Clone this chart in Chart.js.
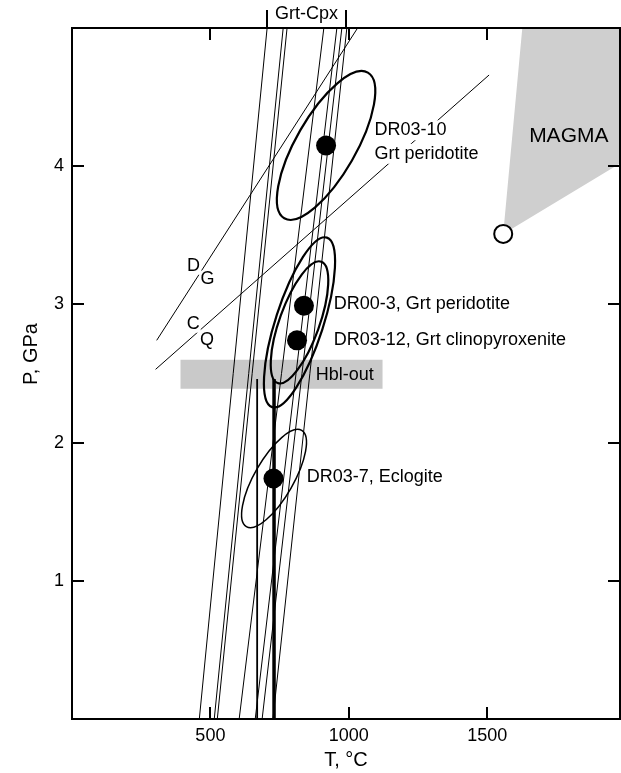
<!DOCTYPE html>
<html>
<head>
<meta charset="utf-8">
<script src="https://cdn.jsdelivr.net/npm/chart.js@4/dist/chart.umd.min.js"></script>
<style>
  html, body { margin: 0; padding: 0; background: #fff; }
  #wrap { width: 621px; height: 773px; }
</style>
</head>
<body>
<div id="wrap"><canvas id="pt" width="621" height="773"></canvas></div>
<script>
// axis ticks
const xTicks = [500, 1000, 1500];
const yTicks = [1, 2, 3, 4];

// Grt-Cpx thermometer lines: T at P = 0 and T at P = 5
const thermoBottomT = [460, 514, 525, 604, 662, 687, 726];
const thermoTopT = [705, 763, 777, 910, 957, 975, 993];
const grtCpxRange = [705, 990];

// vertical lines (T, top P)
const hblLineT = [669, 730];
const hblLineTopP = [2.46, 2.46];

// reaction lines D/G and C/Q
const dgT = [306, 1032];
const dgP = [2.74, 5.0];
const cqT = [302, 1507];
const cqP = [2.53, 4.66];

// Hbl-out band
const hblBandT = [392, 1122];
const hblBandP = [2.39, 2.6];

// magma field
const magmaT = [1558, 1627, 1980, 1980];
const magmaP = [3.51, 5.0, 5.0, 4.02];

// samples
const sampleNames = ['DR03-10', 'DR00-3', 'DR03-12', 'DR03-7'];
const sampleT = [918, 838, 813, 728];
const sampleP = [4.15, 2.99, 2.74, 1.74];
const magmaPointT = [1558];
const magmaPointP = [3.51];

// error ellipses: centre, semi-axis vectors (dT, dP)
const ellCentreT = [918, 822, 822, 730];
const ellCentreP = [4.15, 2.87, 2.87, 1.74];
const ellMajorT = [151, 99, 79, 100];
const ellMajorP = [0.527, 0.613, 0.439, 0.348];
const ellMinorT = [93.5, 82, 67.6, 61];
const ellMinorP = [-0.109, -0.054, -0.05, -0.071];
const ellWidth = [2.2, 2.2, 2.2, 1.5];

// text labels
const labelText = ['DR03-10', 'Grt peridotite', 'DR00-3, Grt peridotite', 'DR03-12, Grt clinopyroxenite',
  'DR03-7, Eclogite', 'Hbl-out', 'D', 'G', 'C', 'Q'];
const labelT = [1093, 1093, 946, 946, 848, 881, 439, 490, 438, 488];
const labelP = [4.26, 4.09, 3.0, 2.74, 1.75, 2.49, 3.28, 3.18, 2.86, 2.74];
const labelBg = [true, true, false, false, false, false, true, true, true, true];

const FONT = '"Liberation Sans", Arial, Helvetica, sans-serif';

const datasets = [];

datasets.push({
  data: sampleT.map((t, i) => ({ x: t, y: sampleP[i] })),
  pointRadius: 10, pointBackgroundColor: '#000', pointBorderWidth: 0,
  showLine: false, order: 0
});
datasets.push({
  data: magmaPointT.map((t, i) => ({ x: t, y: magmaPointP[i] })),
  pointRadius: 9, pointBackgroundColor: '#fff', pointBorderColor: '#000', pointBorderWidth: 2,
  showLine: false, order: 0
});

thermoBottomT.forEach((t, i) => {
  datasets.push({
    data: [{ x: t, y: 0 }, { x: thermoTopT[i], y: 5 }],
    showLine: true, borderColor: '#000', borderWidth: 1, pointRadius: 0, order: 5
  });
});
hblLineT.forEach((t, i) => {
  datasets.push({
    data: [{ x: t, y: 0 }, { x: t, y: hblLineTopP[i] }],
    showLine: true, borderColor: '#000', borderWidth: i === 1 ? 3.5 : 1.8, pointRadius: 0, order: 4
  });
});
[[dgT, dgP], [cqT, cqP]].forEach(([ts, ps]) => {
  datasets.push({
    data: ts.map((t, i) => ({ x: t, y: ps[i] })),
    showLine: true, borderColor: '#000', borderWidth: 1, pointRadius: 0, order: 5
  });
});
datasets.push({
  data: [
    { x: hblBandT[0], y: hblBandP[0] }, { x: hblBandT[1], y: hblBandP[0] },
    { x: hblBandT[1], y: hblBandP[1] }, { x: hblBandT[0], y: hblBandP[1] }
  ],
  showLine: true, fill: 'shape', backgroundColor: '#c9c9c9', borderWidth: 0, pointRadius: 0, order: 10
});
datasets.push({
  data: magmaT.map((t, i) => ({ x: t, y: magmaP[i] })),
  showLine: true, fill: 'shape', backgroundColor: '#cfcfcf', borderWidth: 0, pointRadius: 0, order: 10
});

const decor = {
  id: 'decor',
  afterDatasetsDraw(chart) {
    const { ctx, chartArea: a, scales: { x, y } } = chart;
    ctx.save();
    ctx.beginPath();
    ctx.rect(a.left, a.top, a.right - a.left, a.bottom - a.top);
    ctx.clip();
    // ellipses
    ellCentreT.forEach((t, i) => {
      const cx = x.getPixelForValue(t), cy = y.getPixelForValue(ellCentreP[i]);
      const ax = x.getPixelForValue(t + ellMajorT[i]) - cx;
      const ay = y.getPixelForValue(ellCentreP[i] + ellMajorP[i]) - cy;
      const bx = x.getPixelForValue(t + ellMinorT[i]) - cx;
      const by = y.getPixelForValue(ellCentreP[i] + ellMinorP[i]) - cy;
      ctx.beginPath();
      ctx.save();
      ctx.transform(ax, ay, bx, by, cx, cy);
      ctx.arc(0, 0, 1, 0, Math.PI * 2);
      ctx.restore();
      ctx.lineWidth = ellWidth[i];
      ctx.strokeStyle = '#000';
      ctx.stroke();
    });
    // labels
    ctx.font = '18px ' + FONT;
    ctx.textBaseline = 'middle';
    labelText.forEach((s, i) => {
      const px = x.getPixelForValue(labelT[i]), py = y.getPixelForValue(labelP[i]);
      const single = s.length === 1;
      ctx.textAlign = single ? 'center' : 'left';
      if (labelBg[i]) {
        const w = ctx.measureText(s).width;
        ctx.fillStyle = '#fff';
        if (single) ctx.fillRect(px - w / 2 - 1, py - 9, w + 2, 18);
        else ctx.fillRect(px - 2, py - 10, w + 4, 20);
      }
      ctx.fillStyle = '#000';
      ctx.fillText(s, px, py);
    });
    ctx.textAlign = 'center';
    ctx.font = '21px ' + FONT;
    ctx.fillText('MAGMA', x.getPixelForValue(1795), y.getPixelForValue(4.22));
    ctx.restore();

    // frame and inward ticks
    ctx.save();
    ctx.strokeStyle = '#000';
    ctx.lineWidth = 2;
    ctx.strokeRect(a.left, a.top, a.right - a.left, a.bottom - a.top);
    ctx.beginPath();
    xTicks.forEach(v => {
      const px = Math.round(x.getPixelForValue(v));
      ctx.moveTo(px, a.bottom); ctx.lineTo(px, a.bottom - 12);
      ctx.moveTo(px, a.top); ctx.lineTo(px, a.top + 12);
    });
    yTicks.forEach(v => {
      const py = Math.round(y.getPixelForValue(v));
      ctx.moveTo(a.left, py); ctx.lineTo(a.left + 12, py);
      ctx.moveTo(a.right, py); ctx.lineTo(a.right - 12, py);
    });
    // Grt-Cpx bracket above the frame
    grtCpxRange.forEach(v => {
      const px = Math.round(x.getPixelForValue(v));
      ctx.moveTo(px, a.top); ctx.lineTo(px, a.top - 18);
    });
    ctx.stroke();
    ctx.fillStyle = '#000';
    ctx.font = '18px ' + FONT;
    ctx.textAlign = 'center';
    ctx.textBaseline = 'middle';
    ctx.fillText('Grt-Cpx', (x.getPixelForValue(grtCpxRange[0]) + x.getPixelForValue(grtCpxRange[1])) / 2, a.top - 14);
    // y axis title
    ctx.translate(31, 354);
    ctx.rotate(-Math.PI / 2);
    ctx.font = '20px ' + FONT;
    ctx.fillText('P, GPa', 0, 0);
    ctx.restore();
  }
};

new Chart(document.getElementById('pt'), {
  type: 'scatter',
  data: { datasets },
  options: {
    responsive: false,
    animation: false,
    devicePixelRatio: 1,
    layout: { autoPadding: false, padding: { top: 28, right: 1, left: 0, bottom: 0 } },
    plugins: { legend: { display: false }, tooltip: { enabled: false } },
    scales: {
      x: {
        type: 'linear', min: 0, max: 1980,
        afterBuildTicks: s => { s.ticks = xTicks.map(v => ({ value: v })); },
        afterFit: s => { s.height = 54; s.paddingLeft = 0; s.paddingRight = 0; },
        grid: { display: false, drawTicks: false },
        border: { display: false },
        ticks: { color: '#000', font: { family: FONT, size: 18 }, padding: 6, maxRotation: 0, callback: v => String(v) },
        title: { display: true, text: 'T, °C', color: '#000', font: { family: FONT, size: 20 }, padding: { top: 0, bottom: 1 } }
      },
      y: {
        type: 'linear', min: 0, max: 5,
        afterBuildTicks: s => { s.ticks = yTicks.map(v => ({ value: v })); },
        afterFit: s => { s.width = 72; },
        grid: { display: false, drawTicks: false },
        border: { display: false },
        ticks: { color: '#000', font: { family: FONT, size: 18 }, padding: 8 },
        title: { display: false }
      }
    }
  },
  plugins: [decor]
});
</script>
</body>
</html>
